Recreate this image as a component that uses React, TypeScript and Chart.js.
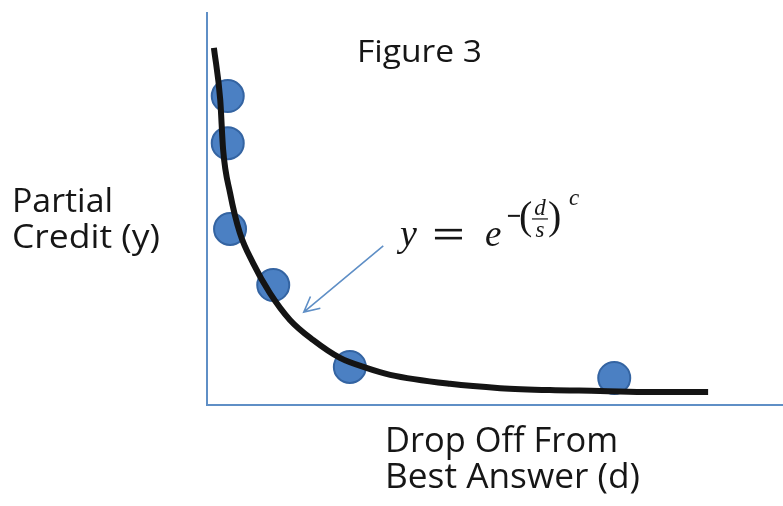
import React, { useEffect, useRef } from "react";
import { Chart, registerables } from "chart.js";

Chart.register(...registerables);

// Observed data points (d, partial credit) in chart units
const pointX = [3.6, 3.6, 4.0, 11.5, 24.8, 70.7];
const pointY = [78.8, 66.8, 44.9, 30.6, 9.7, 6.9];

// Fitted curve
const curveX = [1.2, 2.3, 2.8, 4.0, 5.7, 8.0, 10.9, 14.4, 18.4, 23.1, 27.8, 31.8, 42.2, 50.9, 59.5, 68.2, 76.9, 87.0];
const curveY = [91.1, 77.8, 65.1, 54.1, 43.9, 36.2, 28.6, 21.7, 16.6, 12.0, 9.4, 7.7, 5.4, 4.3, 3.8, 3.6, 3.3, 3.3];

// Texts
const titleText = "Figure 3";
const yLabelLines = ["Partial", "Credit (y)"];
const xLabelLines = ["Drop Off From", "Best Answer (d)"];

const AXIS = "#5f8fc6";
const TEXT = "#161616";
const SANS = "'Open Sans', 'Noto Sans', sans-serif";
const SERIF = "'Liberation Serif', 'DejaVu Serif', serif";

function fitText(ctx: CanvasRenderingContext2D, text: string, x: number, y: number, font: string, width: number) {
  ctx.save();
  ctx.font = font;
  ctx.textAlign = "left";
  ctx.textBaseline = "alphabetic";
  const w = ctx.measureText(text).width;
  const sx = width / w;
  ctx.translate(x, y);
  ctx.scale(sx, 1);
  ctx.fillText(text, 0, 0);
  ctx.restore();
}

const annotationPlugin = {
  id: "figureAnnotations",
  afterDraw(chart: any) {
    const ctx: CanvasRenderingContext2D = chart.ctx;
    const xs = chart.scales.x;
    const ys = chart.scales.y;
    ctx.save();
    ctx.fillStyle = TEXT;

    // Title and axis labels
    fitText(ctx, titleText, 357, 62, `31px ${SANS}`, 125);
    fitText(ctx, yLabelLines[0], 12, 212, `33px ${SANS}`, 101);
    fitText(ctx, yLabelLines[1], 12, 248, `33px ${SANS}`, 148);
    fitText(ctx, xLabelLines[0], 385, 452, `34px ${SANS}`, 233);
    fitText(ctx, xLabelLines[1], 385, 488, `34px ${SANS}`, 255);

    // Arrow (anchored in data units)
    const x0 = xs.getPixelForValue(30.6), y0 = ys.getPixelForValue(40.6);
    const x1 = xs.getPixelForValue(16.8), y1 = ys.getPixelForValue(23.7);
    ctx.strokeStyle = AXIS;
    ctx.lineWidth = 1.6;
    ctx.beginPath();
    ctx.moveTo(x0, y0);
    ctx.lineTo(x1, y1);
    const ang = Math.atan2(y0 - y1, x0 - x1);
    const hl = 17, ha = (27 * Math.PI) / 180;
    ctx.moveTo(x1 + hl * Math.cos(ang - ha), y1 + hl * Math.sin(ang - ha));
    ctx.lineTo(x1, y1);
    ctx.lineTo(x1 + hl * Math.cos(ang + ha), y1 + hl * Math.sin(ang + ha));
    ctx.stroke();

    // Equation y = e^{-(d/s)^c}
    const ex = xs.getPixelForValue(33.5);
    const eb = ys.getPixelForValue(40.6);
    ctx.fillStyle = TEXT;
    ctx.textAlign = "left";
    ctx.textBaseline = "alphabetic";
    ctx.font = `italic 38px ${SERIF}`;
    ctx.fillText("y", ex, eb);
    // equals sign
    ctx.fillRect(ex + 35, eb - 17, 27, 2.6);
    ctx.fillRect(ex + 35, eb - 9, 27, 2.6);
    ctx.font = `italic 37px ${SERIF}`;
    ctx.fillText("e", ex + 85, eb);
    // minus
    ctx.fillRect(ex + 108, eb - 31, 12, 2);
    // parentheses
    ctx.font = `40px ${SERIF}`;
    ctx.fillText("(", ex + 119, eb - 17);
    ctx.fillText(")", ex + 148, eb - 17);
    // fraction
    ctx.font = `italic 23px ${SERIF}`;
    ctx.textAlign = "center";
    ctx.fillText("d", ex + 140, eb - 31);
    ctx.fillText("s", ex + 140, eb - 9);
    ctx.fillRect(ex + 132, eb - 27.5, 16, 1.2);
    ctx.textAlign = "left";
    ctx.font = `italic 23px ${SERIF}`;
    ctx.fillText("c", ex + 169, eb - 41);
    ctx.restore();
  },
};

export default function App() {
  const ref = useRef<HTMLCanvasElement | null>(null);
  useEffect(() => {
    if (!ref.current) return;
    const chart = new Chart(ref.current, {
      type: "scatter",
      data: {
        datasets: [
          {
            label: "fit",
            data: curveX.map((x, i) => ({ x, y: curveY[i] })),
            showLine: true,
            borderColor: "#141414",
            borderWidth: 6,
            pointRadius: 0,
            cubicInterpolationMode: "monotone",
            borderCapStyle: "butt",
            order: 0,
          } as any,
          {
            label: "observed",
            data: pointX.map((x, i) => ({ x, y: pointY[i] })),
            backgroundColor: "#4b80c3",
            borderColor: "#3464a2",
            borderWidth: 2,
            pointRadius: 16,
            order: 1,
          },
        ],
      },
      options: {
        responsive: false,
        animation: false,
        layout: { autoPadding: false, padding: { left: 207, top: 13, right: 0, bottom: 101 } } as any,
        plugins: {
          legend: { display: false },
          tooltip: { enabled: false },
          title: { display: false },
        },
        scales: {
          x: {
            type: "linear",
            min: 0,
            max: 100,
            grid: { display: false, drawTicks: false },
            ticks: { display: false },
            border: { display: true, color: AXIS, width: 2 },
            afterFit: (s: any) => { s.height = 0; },
          },
          y: {
            type: "linear",
            min: 0,
            max: 100,
            grid: { display: false, drawTicks: false },
            ticks: { display: false },
            border: { display: true, color: AXIS, width: 2 },
            afterFit: (s: any) => { s.width = 0; },
          },
        },
        datasets: { scatter: { clip: false } } as any,
      },
      plugins: [annotationPlugin],
    });
    return () => chart.destroy();
  }, []);
  return (
    <canvas
      ref={ref}
      width={783}
      height={506}
      style={{ position: "absolute", left: 0, top: 0, background: "#ffffff" }}
    />
  );
}
